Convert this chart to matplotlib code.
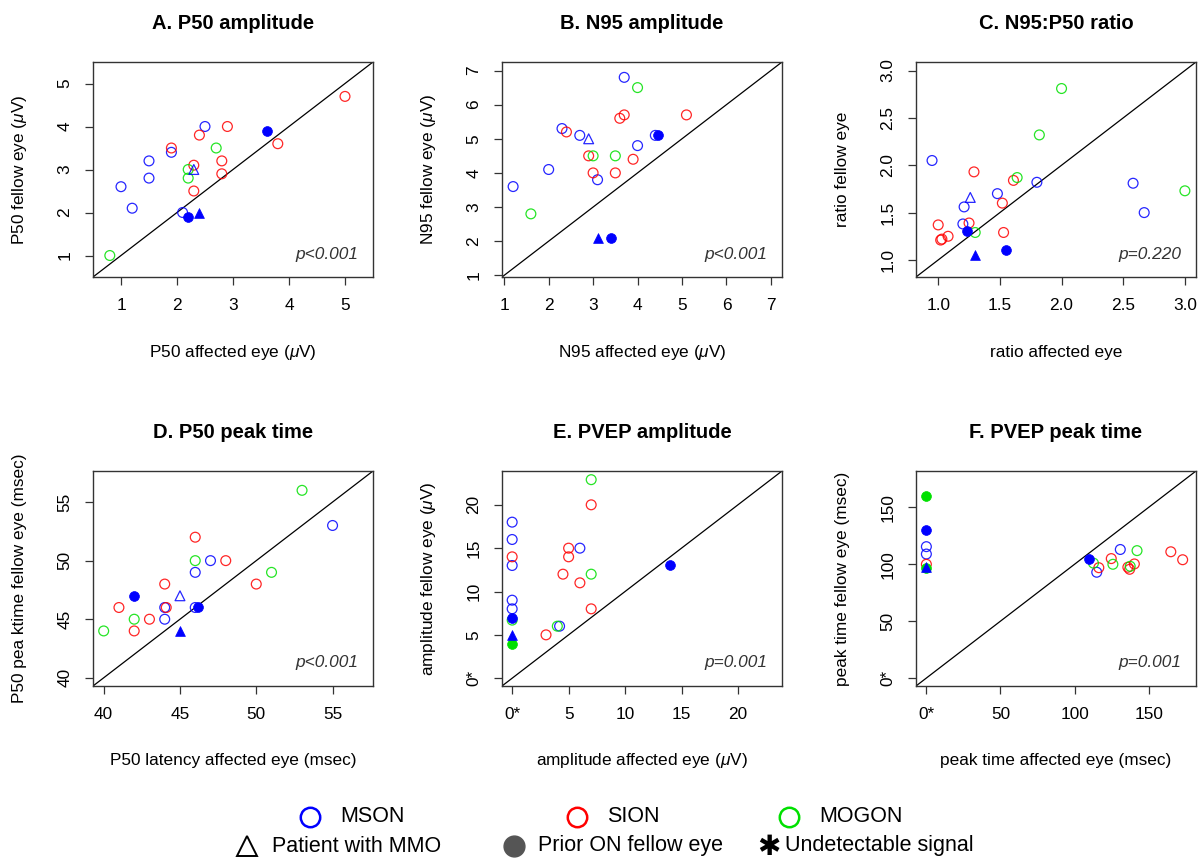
import matplotlib.pyplot as plt
import numpy as np

plt.rcParams['font.family'] = ['Liberation Sans', 'DejaVu Sans']
plt.rcParams['mathtext.fontset'] = 'custom'
plt.rcParams['mathtext.it'] = 'Liberation Sans:italic'
plt.rcParams['mathtext.rm'] = 'Liberation Sans'

# group: M = MSON, S = SION, G = MOGON
# marker: o = open circle, f = prior ON fellow eye, t = MMO, T = MMO + prior ON
COLORS = {"M": "#0000ff", "S": "#ff0000", "G": "#00e000"}

# A. P50 amplitude
A_x = [0.8, 1.0, 1.2, 1.5, 1.5, 1.9, 1.9, 2.1, 2.2, 2.4, 2.2, 2.2, 2.3, 2.3, 2.3, 2.5, 2.4, 2.9, 2.7, 2.8, 2.8, 3.6, 3.8, 5.0]
A_y = [1.0, 2.6, 2.1, 3.2, 2.8, 3.5, 3.4, 2.0, 1.9, 2.0, 3.0, 2.8, 3.0, 3.1, 2.5, 4.0, 3.8, 4.0, 3.5, 3.2, 2.9, 3.9, 3.6, 4.7]
A_grp = list("GMMMMSMMMMGGMSSMSSGSSMSS")
A_mk = list("oooooooofTootoooooooofoo")

# B. N95 amplitude
B_x = [1.2, 1.6, 2.0, 2.3, 2.4, 2.7, 2.9, 2.9, 3.0, 3.0, 3.1, 3.1, 3.4, 3.5, 3.5, 3.6, 3.7, 3.7, 4.0, 4.0, 3.9, 4.4, 4.45, 5.1]
B_y = [3.6, 2.8, 4.1, 5.3, 5.2, 5.1, 5.0, 4.5, 4.5, 4.0, 3.8, 2.08, 2.1, 4.5, 4.0, 5.6, 5.7, 6.8, 6.5, 4.8, 4.4, 5.1, 5.1, 5.7]
B_grp = list("MGMMSMMSGSMMMGSSSMGMSMMS")
B_mk = list("ooooootooooTfooooooooofo")

# C. N95:P50 ratio
C_x = [0.95, 1.0, 1.02, 1.03, 1.08, 1.2, 1.21, 1.23, 1.25, 1.26, 1.29, 1.3, 1.3, 1.48, 1.52, 1.53, 1.55, 1.61, 1.64, 1.80, 1.82, 2.0, 2.58, 2.67, 3.0]
C_y = [2.05, 1.37, 1.21, 1.22, 1.25, 1.38, 1.56, 1.31, 1.39, 1.66, 1.93, 1.29, 1.05, 1.70, 1.60, 1.29, 1.11, 1.84, 1.87, 1.82, 2.32, 2.81, 1.81, 1.50, 1.73]
C_grp = list("MSSSSMMMSMSGMMSSMSGMGGMMG")
C_mk = list("ooooooofotooTooofoooooooo")

# D. P50 peak time
D_x = [40, 41, 42, 42, 42, 43, 44, 44, 44.1, 44, 45, 45, 46, 46, 46, 46, 46.2, 47, 48, 50, 51, 53, 55]
D_y = [44, 46, 45, 44, 47, 45, 48, 46, 46, 45, 47, 44, 49, 50, 52, 46, 46, 50, 50, 48, 49, 56, 53]
D_grp = list("GSGSMSSMSMMMMGSMMMSSGGM")
D_mk = list("oooofoooootToooofoooooo")

# E. PVEP amplitude
E_x = [0, 0, 0, 0, 0, 0, 0, 0, 0, 0, 3.0, 4.0, 4.2, 4.5, 5.0, 5.0, 6.0, 6.0, 7.0, 7.0, 7.0, 7.0, 14.0]
E_y = [18, 16, 14, 13, 9, 8, 6.7, 7, 5, 4, 5, 6, 6, 12, 15, 14, 15, 11, 22.9, 20, 12, 8, 13]
E_grp = list("MMSMMMGMMGSGMSSSMSGSGSM")
E_mk = list("ooooooofTfoooooooooooof")

# F. PVEP peak time
F_x = [0, 0, 0, 0, 0, 0, 0, 110, 112.8, 116.4, 115, 124.8, 125.9, 130.9, 136, 137.2, 137.6, 140.4, 142.2, 165, 173]
F_y = [160, 130, 115.5, 109, 97, 100, 98, 105, 101, 97, 93, 105, 100, 113, 97.4, 95.6, 98.2, 100.3, 112, 111, 104]
F_grp = list("GMMMGSMMGSMSGMSSGSGSS")
F_mk = list("ffoofoTfooooooooooooo")

PANELS = [
    ("A. P50 amplitude", r"P50 affected eye ($\mu$V)", r"P50 fellow eye ($\mu$V)",
     A_x, A_y, A_grp, A_mk, (0.5, 5.5), [1, 2, 3, 4, 5], None, "p<0.001"),
    ("B. N95 amplitude", r"N95 affected eye ($\mu$V)", r"N95 fellow eye ($\mu$V)",
     B_x, B_y, B_grp, B_mk, (0.95, 7.25), [1, 2, 3, 4, 5, 6, 7], None, "p<0.001"),
    ("C. N95:P50 ratio", "ratio affected eye", "ratio fellow eye",
     C_x, C_y, C_grp, C_mk, (0.82, 3.09), [1.0, 1.5, 2.0, 2.5, 3.0],
     ["1.0", "1.5", "2.0", "2.5", "3.0"], "p=0.220"),
    ("D. P50 peak time", "P50 latency affected eye (msec)", "P50 pea ktime fellow eye (msec)",
     D_x, D_y, D_grp, D_mk, (39.3, 57.65), [40, 45, 50, 55], None, "p<0.001"),
    ("E. PVEP amplitude", r"amplitude affected eye ($\mu$V)", r"amplitude fellow eye ($\mu$V)",
     E_x, E_y, E_grp, E_mk, (-0.9, 23.9), [0, 5, 10, 15, 20],
     ["0*", "5", "10", "15", "20"], "p=0.001"),
    ("F. PVEP peak time", "peak time affected eye (msec)", "peak time fellow eye (msec)",
     F_x, F_y, F_grp, F_mk, (-7, 182), [0, 50, 100, 150],
     ["0*", "50", "100", "150"], "p=0.001"),
]

W, H = 1203, 859
fig = plt.figure(figsize=(W / 100, H / 100), dpi=100)

LEFTS = [93, 502, 916]
TOPS = [62, 471]
BW, BH = 280, 215
FS = 12.4
EDGE = "#333333"


def draw_panel(ax, title, xlab, ylab, x, y, grp, mk, lim, ticks, tlabels, ptxt):
    x = np.array(x); y = np.array(y)
    grp = np.array(grp); mk = np.array(mk)
    ax.axline((lim[0], lim[0]), slope=1, color="black", lw=0.9, zorder=1)
    for m in ["o", "t", "f", "T"]:
        for g in ["M", "S", "G"]:
            sel = (grp == g) & (mk == m)
            if not sel.any():
                continue
            c = COLORS[g]
            marker = "o" if m in "of" else "^"
            if m in "fT":
                ax.scatter(x[sel], y[sel], s=50, marker=marker, color=c,
                           edgecolors=c, linewidths=0.5, zorder=4)
            else:
                ax.scatter(x[sel], y[sel], s=50, marker=marker, facecolors="none",
                           edgecolors=c, linewidths=0.9, alpha=0.85, zorder=3)
    ax.set_xlim(lim); ax.set_ylim(lim)
    ax.set_xticks(ticks); ax.set_yticks(ticks)
    if tlabels is not None:
        ax.set_xticklabels(tlabels); ax.set_yticklabels(tlabels)
    ax.tick_params(length=6, width=0.9, color=EDGE, labelsize=FS)
    ax.tick_params(axis="x", pad=9)
    ax.tick_params(axis="y", pad=9, labelrotation=90)
    for lab in ax.get_yticklabels():
        lab.set_va("center")
    for sp in ax.spines.values():
        sp.set_color(EDGE); sp.set_linewidth(1.0)
    ax.set_title(title, fontsize=14.5, fontweight="bold", pad=24)
    ax.set_xlabel(xlab, fontsize=FS, va="center")
    ax.xaxis.set_label_coords(0.5, -75 / BH)
    ax.set_ylabel(ylab, fontsize=FS, va="center")
    ax.yaxis.set_label_coords(-73 / BW, 0.5)
    ax.text(1 - 15 / BW, 23 / BH, ptxt, transform=ax.transAxes, ha="right",
            va="center", style="italic", fontsize=FS, color="#333333")


for i, p in enumerate(PANELS):
    r, c = divmod(i, 3)
    ax = fig.add_axes([LEFTS[c] / W, 1 - (TOPS[r] + BH) / H, BW / W, BH / H])
    draw_panel(ax, *p)

# legend
lax = fig.add_axes([0, 0, 1, 1], zorder=-1)
lax.set_xlim(0, W); lax.set_ylim(H, 0); lax.axis("off")
LFS = 15.5
row1 = [(310, "MSON", COLORS["M"]), (577, "SION", COLORS["S"]), (789, "MOGON", COLORS["G"])]
for lx, txt, c in row1:
    lax.plot(lx, 817, "o", ms=14, mfc="none", mec=c, mew=1.8)
    lax.text(lx + 30, 817, txt, fontsize=LFS, va="center", ha="left")
lax.plot(247, 846, "^", ms=15, mfc="none", mec="black", mew=1.4)
lax.text(272, 846, "Patient with MMO", fontsize=LFS, va="center", ha="left")
lax.plot(514, 846, "o", ms=15, color="#555555")
lax.text(538, 846, "Prior ON fellow eye", fontsize=LFS, va="center", ha="left")
lax.text(769, 847, "\u2731", fontsize=20, va="center", ha="center", family=["DejaVu Sans"])
lax.text(785, 846, "Undetectable signal", fontsize=LFS, va="center", ha="left")

fig.savefig("out.png", dpi=100)
